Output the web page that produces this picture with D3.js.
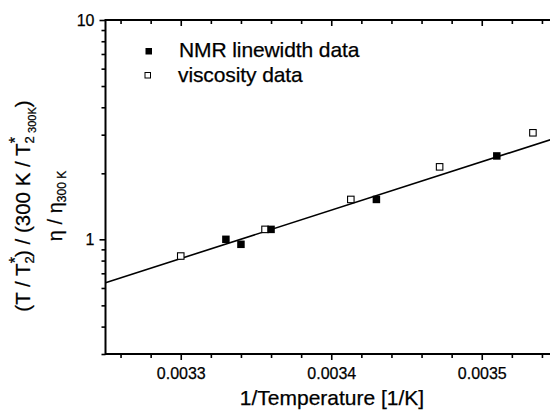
<!DOCTYPE html>
<html>
<head>
<meta charset="utf-8">
<script src="https://cdn.jsdelivr.net/npm/d3@7"></script>
<style>
  html, body { margin: 0; padding: 0; background: #fff; }
  svg { display: block; }
  text { font-family: "Liberation Sans", Arial, sans-serif; fill: #000; stroke: #000; stroke-width: 0.25px; }
</style>
</head>
<body>
<svg id="chart" width="550" height="413"></svg>
<script>
// ---- data ----
const nmrX = [0.00333, 0.00334, 0.00336, 0.00343, 0.00351];
const nmrY = [1.00, 0.949, 1.11, 1.52, 2.40];
const viscX = [0.00330, 0.003356, 0.003413, 0.003472, 0.003534];
const viscY = [0.839, 1.11, 1.52, 2.14, 3.06];
const fitX = [0.00325, 0.00355];
const fitY = [0.634, 2.91];
const xMajorTicks = [0.0033, 0.0034, 0.0035];
const xTickLabels = ["0.0033", "0.0034", "0.0035"];
const yMajorTicks = [1, 10];
const yTickLabels = ["1", "10"];
const yMinorTicks = [0.3, 0.4, 0.5, 0.6, 0.7, 0.8, 0.9, 2, 3, 4, 5, 6, 7, 8, 9];
const legendLabels = ["NMR linewidth data", "viscosity data"];

// ---- layout ----
const svg = d3.select("#chart");
const plotLeft = 105.5, plotTop = 20, plotBottom = 354;
const x = d3.scaleLinear().domain([0.00325, 0.00355]).range([plotLeft, plotLeft + 451.5]);
const y = d3.scaleLog().domain([0.3, 10]).range([plotBottom, plotTop]);

const xMinorTicks = d3.range(0.00326, 0.003561, 0.00002).filter(v => !xMajorTicks.some(m => Math.abs(m - v) < 1e-9));

function styleAxis(g) {
  g.select(".domain").remove();
  g.selectAll(".tick line").attr("stroke", "#000").attr("stroke-width", 1.6);
}

// bottom axis: major + minor (outward)
svg.append("g").attr("transform", `translate(0,${plotBottom})`)
  .call(d3.axisBottom(x).tickValues(xMinorTicks).tickSize(4).tickFormat(""))
  .call(styleAxis);
const xb = svg.append("g").attr("transform", `translate(0,${plotBottom})`)
  .call(d3.axisBottom(x).tickValues(xMajorTicks).tickSize(6).tickPadding(8)
        .tickFormat((d, i) => xTickLabels[i]))
  .call(styleAxis);
xb.selectAll("text").attr("font-size", 16).attr("font-family", "Liberation Sans, Arial, sans-serif");

// top axis: ticks pointing inward
svg.append("g").attr("transform", `translate(0,${plotTop})`)
  .call(d3.axisTop(x).tickValues(xMinorTicks).tickSize(-4).tickFormat(""))
  .call(styleAxis);
svg.append("g").attr("transform", `translate(0,${plotTop})`)
  .call(d3.axisTop(x).tickValues(xMajorTicks).tickSize(-6).tickFormat(""))
  .call(styleAxis);

// left axis: outward
svg.append("g").attr("transform", `translate(${plotLeft},0)`)
  .call(d3.axisLeft(y).tickValues(yMinorTicks).tickSize(4).tickFormat(""))
  .call(styleAxis);
const yl = svg.append("g").attr("transform", `translate(${plotLeft},0)`)
  .call(d3.axisLeft(y).tickValues(yMajorTicks).tickSize(6).tickPadding(5)
        .tickFormat((d, i) => yTickLabels[i]))
  .call(styleAxis);
yl.selectAll("text").attr("font-size", 16).attr("font-family", "Liberation Sans, Arial, sans-serif");

// axis lines
svg.append("line").attr("x1", plotLeft).attr("x2", 560).attr("y1", plotBottom).attr("y2", plotBottom)
  .attr("stroke", "#000").attr("stroke-width", 2);
svg.append("line").attr("x1", plotLeft).attr("x2", 560).attr("y1", plotTop).attr("y2", plotTop)
  .attr("stroke", "#000").attr("stroke-width", 2);
svg.append("line").attr("x1", plotLeft).attr("x2", plotLeft).attr("y1", plotTop - 1).attr("y2", plotBottom + 1)
  .attr("stroke", "#000").attr("stroke-width", 2);

// fit line
const line = d3.line().x(d => x(d[0])).y(d => y(d[1]));
svg.append("path").datum(d3.zip(fitX, fitY)).attr("d", line)
  .attr("fill", "none").attr("stroke", "#000").attr("stroke-width", 1.6);

// markers
const ms = 7.5;
svg.append("g").selectAll("rect").data(d3.zip(viscX, viscY)).join("rect")
  .attr("x", d => x(d[0]) - ms / 2 + 0.5).attr("y", d => y(d[1]) - ms / 2 + 0.5)
  .attr("width", ms - 1).attr("height", ms - 1)
  .attr("fill", "#fff").attr("stroke", "#000").attr("stroke-width", 1.1);
svg.append("g").selectAll("rect").data(d3.zip(nmrX, nmrY)).join("rect")
  .attr("x", d => x(d[0]) - ms / 2).attr("y", d => y(d[1]) - ms / 2)
  .attr("width", ms).attr("height", ms).attr("fill", "#000");

// legend
const lg = svg.append("g");
lg.append("rect").attr("x", 145.5).attr("y", 48).attr("width", 6.5).attr("height", 6.5).attr("fill", "#000");
lg.append("rect").attr("x", 145).attr("y", 72.5).attr("width", 5.5).attr("height", 5.5)
  .attr("fill", "#fff").attr("stroke", "#000").attr("stroke-width", 1);
lg.append("text").attr("x", 179).attr("y", 57).attr("font-size", 21).attr("letter-spacing", -0.1).text(legendLabels[0]);
lg.append("text").attr("x", 178).attr("y", 82).attr("font-size", 21).attr("letter-spacing", -0.1).text(legendLabels[1]);

// x title
svg.append("text").attr("x", 332).attr("y", 405).attr("text-anchor", "middle")
  .attr("font-size", 21).text("1/Temperature [1/K]");

// y titles (rotated)
const yt1 = svg.append("text").attr("transform", "translate(30,206) rotate(-90)")
  .attr("text-anchor", "middle").attr("font-size", 20.5);
yt1.append("tspan").text("(T / T");
yt1.append("tspan").attr("font-size", 13).attr("dy", 4).text("2");
yt1.append("tspan").attr("font-size", 16).attr("dx", -7).attr("dy", -13).text("*");
yt1.append("tspan").attr("dy", 9).text(") / (300 K / T");
yt1.append("tspan").attr("font-size", 13).attr("dy", 4).text("2");
yt1.append("tspan").attr("font-size", 16).attr("dx", -7).attr("dy", -13).text("*");
yt1.append("tspan").attr("font-size", 11).attr("dx", 4).attr("dy", 15).text("300K");
yt1.append("tspan").attr("dy", -6).text(")");

const yt2 = svg.append("text").attr("transform", "translate(62,206) rotate(-90)")
  .attr("text-anchor", "middle").attr("font-size", 20);
yt2.append("tspan").text("η / η");
yt2.append("tspan").attr("font-size", 12).attr("dy", 4).text("300 K");
</script>
</body>
</html>
